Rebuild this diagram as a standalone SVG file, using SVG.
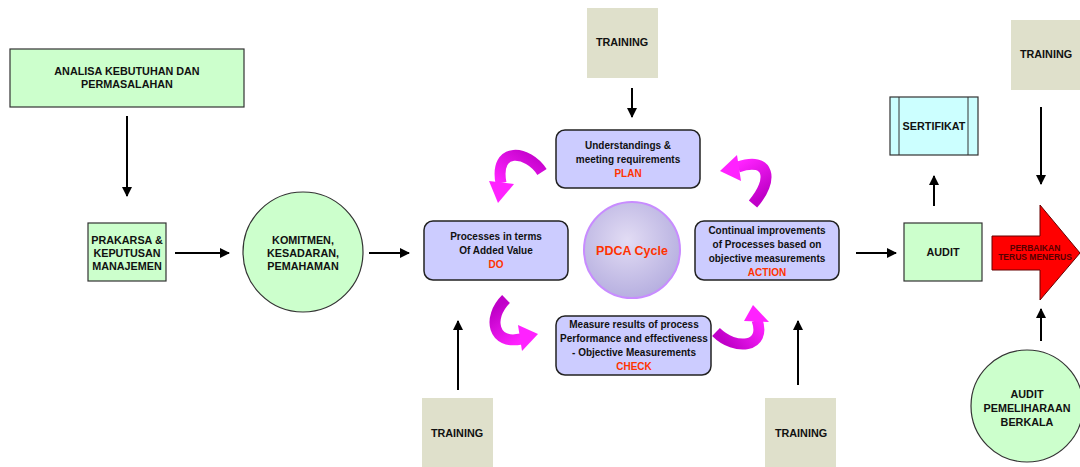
<svg xmlns="http://www.w3.org/2000/svg" width="1080" height="467" viewBox="0 0 1080 467">
<style>
text{font-family:"Liberation Sans",Arial,sans-serif;font-weight:bold;text-anchor:middle;fill:#111}
.g{fill:#ccffcc;stroke:#333;stroke-width:1.2}
.tr{fill:#dfe0cb;stroke:none}
.p{fill:#ccccff;stroke:#222;stroke-width:1.5}
.t10{font-size:10.8px}
.t9{font-size:10px}
.red{fill:#ff3300}
.con{stroke:#000;stroke-width:2;fill:none;marker-end:url(#ah)}
.cv{fill:none;stroke-width:11}
</style>
<defs>
<marker id="ah" viewBox="0 0 10 10" refX="9" refY="5" markerWidth="5" markerHeight="5" orient="auto" markerUnits="strokeWidth">
<path d="M0,0 L10,5 L0,10 z" fill="#000"/>
</marker>
<radialGradient id="pg" cx="0.45" cy="0.4" r="0.6">
<stop offset="0" stop-color="#e2dcf4"/>
<stop offset="1" stop-color="#b7b0e0"/>
</radialGradient>
<linearGradient id="mg1" x1="1" y1="0" x2="0" y2="1"><stop offset="0" stop-color="#c000c8"/><stop offset="1" stop-color="#ff22ff"/></linearGradient>
<linearGradient id="mg2" x1="0.5" y1="1" x2="0" y2="0"><stop offset="0" stop-color="#c000c8"/><stop offset="1" stop-color="#ff22ff"/></linearGradient>
<linearGradient id="mg3" x1="0.5" y1="0" x2="1" y2="1"><stop offset="0" stop-color="#c000c8"/><stop offset="1" stop-color="#ff22ff"/></linearGradient>
<linearGradient id="mg4" x1="0" y1="0.5" x2="1" y2="0"><stop offset="0" stop-color="#c000c8"/><stop offset="1" stop-color="#ff22ff"/></linearGradient>
</defs>

<g id="connectors">
<line class="con" x1="127" y1="116" x2="127" y2="196"/>
<line class="con" x1="175" y1="253" x2="229" y2="253"/>
<line class="con" x1="369" y1="253" x2="409" y2="253"/>
<line class="con" x1="632" y1="88" x2="632" y2="117"/>
<line class="con" x1="458" y1="390" x2="458" y2="321"/>
<line class="con" x1="798" y1="385" x2="798" y2="321"/>
<line class="con" x1="856" y1="253" x2="896" y2="253"/>
<line class="con" x1="934" y1="206" x2="934" y2="176"/>
<line class="con" x1="1041" y1="107" x2="1041" y2="184"/>
<line class="con" x1="1041" y1="341" x2="1041" y2="309"/>
</g>

<g id="cycle-arrows">
<path class="cv" d="M542,172 C528,150 494,146 501,183" stroke="url(#mg1)"/>
<polygon points="489,181 514,184 498,203" fill="#ff22ff"/>
<path class="cv" d="M753,204 C774,180 770,156 738,167" stroke="url(#mg2)"/>
<polygon points="737,155 741,181 720,171" fill="#ff22ff"/>
<path class="cv" d="M506,299 C487,318 493,345 521,339" stroke="url(#mg3)"/>
<polygon points="518,325 522,351 538,334" fill="#ff22ff"/>
<path class="cv" d="M716,332 C735,351 767,348 757,320" stroke="url(#mg4)"/>
<polygon points="744,321 769,322 753,305" fill="#ff22ff"/>
</g>

<g id="analisa">
<rect class="g" x="10" y="49" width="234" height="58"/>
<text class="t10" x="127" y="75">ANALISA KEBUTUHAN DAN</text>
<text class="t10" x="127" y="88">PERMASALAHAN</text>
</g>

<g id="prakarsa">
<rect class="g" x="88" y="223" width="78" height="58"/>
<text class="t10" x="127" y="244">PRAKARSA &amp;</text>
<text class="t10" x="127" y="257">KEPUTUSAN</text>
<text class="t10" x="127" y="270">MANAJEMEN</text>
</g>

<g id="komitmen">
<circle class="g" cx="303" cy="252" r="60"/>
<text class="t10" x="303" y="244">KOMITMEN,</text>
<text class="t10" x="303" y="257">KESADARAN,</text>
<text class="t10" x="303" y="270">PEMAHAMAN</text>
</g>

<g id="training-top">
<rect class="tr" x="587" y="8" width="71" height="70"/>
<text class="t10" x="622" y="46">TRAINING</text>
</g>

<g id="plan">
<rect class="p" x="556" y="130" width="144" height="58" rx="9"/>
<text class="t9" x="628" y="149">Understandings &amp;</text>
<text class="t9" x="628" y="163">meeting requirements</text>
<text class="t9 red" x="628" y="177">PLAN</text>
</g>

<g id="do">
<rect class="p" x="424" y="221" width="144" height="59" rx="9"/>
<text class="t9" x="496" y="240">Processes in terms</text>
<text class="t9" x="496" y="254">Of Added Value</text>
<text class="t9 red" x="496" y="268">DO</text>
</g>

<g id="pdca">
<circle cx="632" cy="250" r="48" fill="url(#pg)" stroke="#c88cff" stroke-width="2"/>
<text x="632" y="255" class="red" style="font-size:12.5px">PDCA Cycle</text>
</g>

<g id="action">
<rect class="p" x="695" y="221" width="144" height="59" rx="9"/>
<text class="t9" x="767" y="234">Continual improvements</text>
<text class="t9" x="767" y="248">of Processes based on</text>
<text class="t9" x="767" y="262">objective measurements</text>
<text class="t9 red" x="767" y="276">ACTION</text>
</g>

<g id="check">
<rect class="p" x="556" y="316" width="155" height="59" rx="9"/>
<text class="t9" x="634" y="328">Measure results of process</text>
<text class="t9" x="634" y="342">Performance and effectiveness</text>
<text class="t9" x="634" y="356">- Objective Measurements</text>
<text class="t9 red" x="634" y="370">CHECK</text>
</g>

<g id="training-left">
<rect class="tr" x="422" y="398" width="71" height="69"/>
<text class="t10" x="457" y="437">TRAINING</text>
</g>

<g id="training-right">
<rect class="tr" x="765" y="398" width="71" height="69"/>
<text class="t10" x="801" y="437">TRAINING</text>
</g>

<g id="audit">
<rect class="g" x="904" y="223" width="78" height="58"/>
<text class="t10" x="943" y="256">AUDIT</text>
</g>

<g id="sertifikat">
<rect x="890" y="97" width="88" height="58" fill="#ccffff" stroke="#333" stroke-width="1.2"/>
<line x1="899" y1="97" x2="899" y2="155" stroke="#333" stroke-width="1"/>
<line x1="968" y1="97" x2="968" y2="155" stroke="#333" stroke-width="1"/>
<text class="t10" x="934" y="130">SERTIFIKAT</text>
</g>

<g id="training-far">
<rect class="tr" x="1011" y="20" width="69" height="70"/>
<text class="t10" x="1046" y="58">TRAINING</text>
</g>

<g id="perbaikan">
<polygon points="992,236 1040,236 1040,205 1080,253 1040,300 1040,270 992,270" fill="#ff0000" stroke="#660000" stroke-width="1"/>
<text x="1035" y="251" style="font-size:8.5px;fill:#550000">PERBAIKAN</text>
<text x="1035" y="260" style="font-size:8.5px;fill:#550000">TERUS MENERUS</text>
</g>

<g id="audit-pemeliharaan">
<circle class="g" cx="1027" cy="406" r="56"/>
<text class="t10" x="1027" y="398">AUDIT</text>
<text class="t10" x="1027" y="412">PEMELIHARAAN</text>
<text class="t10" x="1027" y="426">BERKALA</text>
</g>
</svg>
